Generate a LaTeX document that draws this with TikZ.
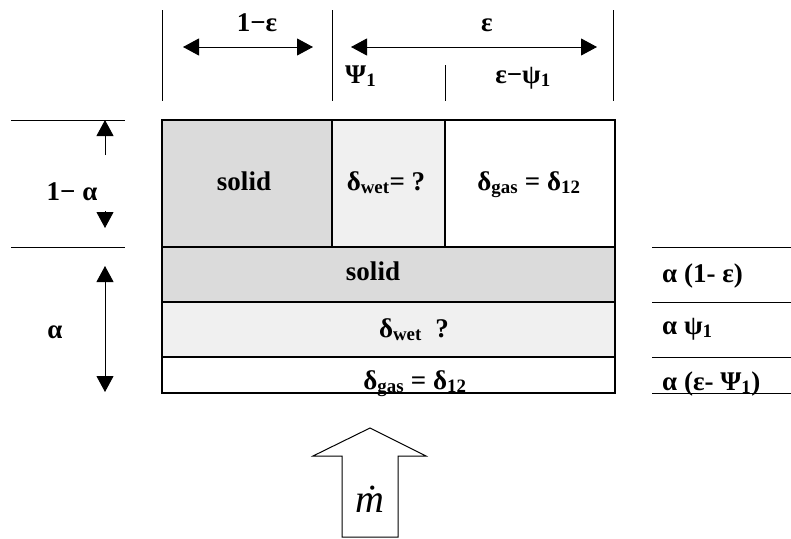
\documentclass[tikz,border=0pt]{standalone}
\usepackage{fontspec}
\setmainfont{Liberation Serif}
\usetikzlibrary{arrows.meta}
\newcommand{\lo}[1]{\textsubscript{#1}}
\begin{document}
\begin{tikzpicture}[x=1pt,y=-1pt,
  lbl/.style={font=\fontsize{27}{30}\selectfont\bfseries, anchor=base, inner sep=0pt},
  lbll/.style={lbl, anchor=base west},
  thin line/.style={line width=1pt},
  boxline/.style={line width=1.3pt},
  dimarrow/.style={line width=1pt, {Triangle[width=17pt,length=16pt]}-{Triangle[width=17pt,length=16pt]}},
  onearrow/.style={line width=1pt, -{Triangle[width=17pt,length=16pt]}},
  solidfill/.style={fill=black!14},
  wetfill/.style={fill=black!6}]
\useasboundingbox (0,0) rectangle (791,538);
% fills
\fill[solidfill] (162,120) rectangle (332,247);
\fill[wetfill] (332,120) rectangle (445,247);
\fill[solidfill] (162,247) rectangle (615,302);
\fill[wetfill] (162,302) rectangle (615,357);
% box
\draw[boxline] (162,120) rectangle (615,393);
\draw[boxline] (332,120) -- (332,247);
\draw[boxline] (445,120) -- (445,247);
\draw[boxline] (162,247) -- (615,247);
\draw[boxline] (162,302) -- (615,302);
\draw[boxline] (162,357) -- (615,357);
% cell texts
\node[lbl] (s1) at (244,190) {solid};
\node[lbl] (w1) at (386,190) {δ\lo{wet}= ?};
\node[lbl] (g1) at (529,190) {δ\lo{gas} = δ\lo{12}};
\node[lbl] (s2) at (373,280) {solid};
\node[lbl] (w2) at (414,337) {δ\lo{wet}\ \ ?};
\node[lbl] (g2) at (415,389) {δ\lo{gas} = δ\lo{12}};
% top dimensions
\draw[thin line] (162,10) -- (162,101);
\draw[thin line] (332,10) -- (332,101);
\draw[thin line] (613,10) -- (613,101);
\draw[thin line] (445,65) -- (445,101);
\coordinate (a1l) at (183,47); \coordinate (a1r) at (313,47);
\coordinate (a2l) at (351,47); \coordinate (a2r) at (597,47);
\draw[dimarrow] (a1l) -- (a1r);
\draw[dimarrow] (a2l) -- (a2r);
\node[lbl] (t1) at (257,31) {1−ε};
\node[lbl] (t2) at (487,31) {ε};
\node[lbll] (t3) at (345,83) {Ψ\lo{1}};
\node[lbl] (t4) at (523,83) {ε−ψ\lo{1}};
% left dimensions
\draw[thin line] (11,120) -- (125,120);
\draw[thin line] (11,247) -- (125,247);
\coordinate (l1a) at (105,155); \coordinate (l1b) at (105,120);
\draw[onearrow] (l1a) -- (l1b);
\coordinate (l2a) at (105,211); \coordinate (l2b) at (105,228);
\draw[onearrow] (l2a) -- (l2b);
\coordinate (l3a) at (105,266); \coordinate (l3b) at (105,392);
\draw[dimarrow] (l3a) -- (l3b);
\node[lbl] (la) at (72,200) {1− α};
\node[lbl] (lb) at (55,338) {α};
% right labels
\draw[thin line] (652,247) -- (791,247);
\draw[thin line] (652,302) -- (791,302);
\draw[thin line] (652,357) -- (791,357);
\draw[thin line] (652,393) -- (791,393);
\node[lbll] (r1) at (662,282) {α (1- ε)};
\node[lbll] (r2) at (662,334) {α ψ\lo{1}};
\node[lbll] (r3) at (662,390) {α (ε- Ψ\lo{1})};
% mass flow arrow
\draw[line width=1pt] (342,537) -- (342,456) -- (313,456) -- (370,428) -- (426,456) -- (398,456) -- (398,537) -- cycle;
\node[font=\fontsize{40}{42}\selectfont\itshape, anchor=base, inner sep=0pt] (md) at (370,512) {\.{m}};
\end{tikzpicture}
\end{document}
